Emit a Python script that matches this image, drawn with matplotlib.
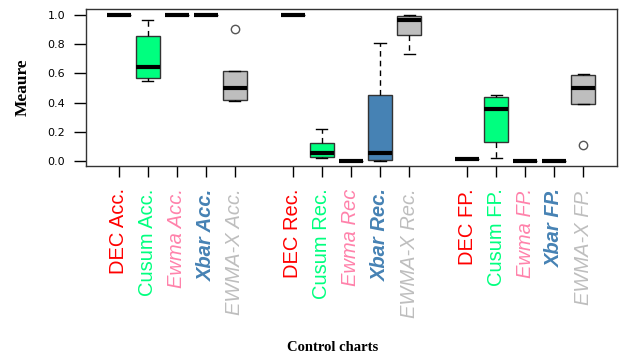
import matplotlib
matplotlib.use("Agg")
import matplotlib.pyplot as plt

# box positions and labels
positions = [1, 2, 3, 4, 5, 7, 8, 9, 10, 11, 13, 14, 15, 16, 17]
labels = ["DEC Acc.", "Cusum Acc.", "Ewma Acc.", "Xbar Acc.", "EWMA-X Acc.",
          "DEC Rec.", "Cusum Rec.", "Ewma Rec", "Xbar Rec.", "EWMA-X Rec.",
          "DEC FP.", "Cusum FP.", "Ewma FP.", "Xbar FP.", "EWMA-X FP."]

# box statistics
whis_lo = [1.0, 0.546, 1.0, 1.0, 0.413, 1.0, 0.021, 0.0, 0.0, 0.733, 0.012, 0.023, 0.0, 0.0, 0.392]
q1 = [1.0, 0.57, 1.0, 1.0, 0.42, 1.0, 0.03, 0.0, 0.005, 0.865, 0.012, 0.13, 0.0, 0.0, 0.392]
med = [1.0, 0.64, 1.0, 1.0, 0.502, 1.0, 0.057, 0.0, 0.055, 0.966, 0.012, 0.354, 0.0, 0.0, 0.502]
q3 = [1.0, 0.856, 1.0, 1.0, 0.614, 1.0, 0.121, 0.0, 0.452, 0.995, 0.012, 0.436, 0.0, 0.0, 0.587]
whis_hi = [1.0, 0.966, 1.0, 1.0, 0.614, 1.0, 0.217, 0.0, 0.806, 1.0, 0.012, 0.452, 0.0, 0.0, 0.598]
fliers = [[], [], [], [], [0.904], [], [], [], [], [], [], [], [], [], [0.107]]

method_colors = {"DEC": "#FF0000", "Cusum": "#00FF7F", "Ewma": "#FF82AB",
                 "Xbar": "#4682B4", "EWMA-X": "#BEBEBE"}
box_fill = {"DEC": "#FF0000", "Cusum": "#00FF7F", "Ewma": "#FF82AB",
            "Xbar": "#4682B4", "EWMA-X": "#BEBEBE"}
label_style = {"DEC": ("normal", "normal"), "Cusum": ("normal", "normal"),
               "Ewma": ("italic", "normal"), "Xbar": ("italic", "bold"),
               "EWMA-X": ("italic", "normal")}

stats = []
for i in range(len(positions)):
    stats.append({"whislo": whis_lo[i], "q1": q1[i], "med": med[i], "q3": q3[i],
                  "whishi": whis_hi[i], "fliers": fliers[i]})

fig = plt.figure(figsize=(6.22, 3.55), dpi=100)
ax = fig.add_axes([0.138, 0.532, 0.854, 0.443])

bp = ax.bxp(stats, positions=positions, widths=0.82, patch_artist=True,
            boxprops=dict(edgecolor="#333333", linewidth=1.0),
            medianprops=dict(color="black", linewidth=3.0, solid_capstyle="butt"),
            whiskerprops=dict(color="black", linestyle=(0, (4, 3)), linewidth=1.0),
            capprops=dict(color="black", linewidth=1.0),
            flierprops=dict(marker="o", markerfacecolor="white", markeredgecolor="#555555",
                            markersize=6, markeredgewidth=1.0))
for lab, box in zip(labels, bp["boxes"]):
    box.set_facecolor(box_fill[lab.split()[0]])
# caps are narrower than the boxes
for cap in bp["caps"]:
    x0, x1 = cap.get_xdata()
    c = (x0 + x1) / 2
    cap.set_xdata([c - 0.19, c + 0.19])

ax.set_xlim(-0.14, 18.17)
ax.set_ylim(-0.035, 1.041)
ax.set_yticks([0.0, 0.2, 0.4, 0.6, 0.8, 1.0])
ax.set_yticklabels(["0.0", "0.2", "0.4", "0.6", "0.8", "1.0"], fontsize=8)
ax.tick_params(axis="y", length=9, pad=6, width=1)
ax.set_xticks(positions)
ax.set_xticklabels(labels, rotation=90, fontsize=14.5, family="Liberation Sans")
ax.tick_params(axis="x", length=8, pad=8, width=1)
for t in ax.get_xticklabels():
    m = t.get_text().split()[0]
    t.set_color(method_colors[m])
    t.set_style(label_style[m][0])
    t.set_weight(label_style[m][1])
for s in ax.spines.values():
    s.set_linewidth(1.0)
    s.set_color("#333333")

ax.set_ylabel("Meaure", family="Liberation Serif", fontweight="bold", fontsize=12.5, labelpad=12)
fig.text(0.535, 0.022, "Control charts", family="Liberation Serif", fontweight="bold",
         fontsize=10.5, ha="center", va="center")

fig.savefig("out.png", dpi=100)
